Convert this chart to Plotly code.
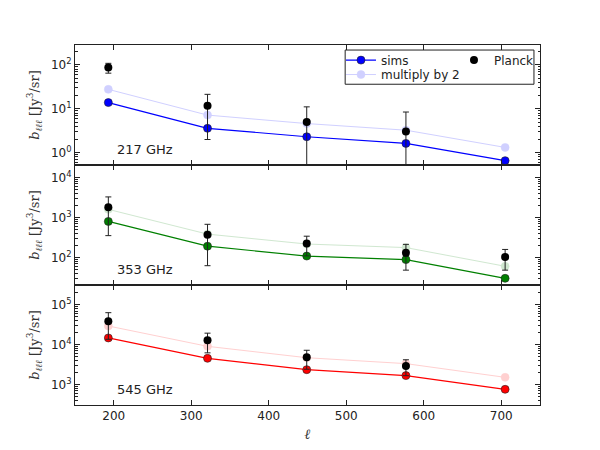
import plotly.graph_objects as go
from plotly.subplots import make_subplots

# ---------------- data ----------------
ell = [193, 321, 449, 577, 705]

sims_217 = [13.9, 3.6, 2.31, 1.63, 0.66]
mult_217 = [27.8, 7.2, 4.62, 3.26, 1.32]
planck_ell_217 = [193, 321, 449, 577]
planck_217 = [87, 11.7, 5.0, 3.06]
planck_217_err = [22, 9.7, 6.1, 5.4]

sims_353 = [794, 191, 108, 88, 30]
mult_353 = [1588, 382, 216, 176, 60]
planck_ell_353 = [193, 321, 449, 577, 705]
planck_353 = [1800, 367, 224, 130, 103]
planck_353_err = [1450, 305, 115, 82, 55]

sims_545 = [14700, 4520, 2340, 1660, 750]
mult_545 = [29400, 9040, 4680, 3320, 1500]
planck_ell_545 = [193, 321, 449, 577]
planck_545 = [38600, 12800, 4800, 2900]
planck_545_err = [25000, 6600, 2400, 1250]

panel_labels = ["217 GHz", "353 GHz", "545 GHz"]
colors = ["#0000ff", "#008000", "#ff0000"]

x_tickvals = [200, 300, 400, 500, 600, 700]
y_tickvals = [[1, 10, 100], [100, 1000, 10000], [1000, 10000, 100000]]
y_ticktext = [["10<sup>0</sup>", "10<sup>1</sup>", "10<sup>2</sup>"],
              ["10<sup>2</sup>", "10<sup>3</sup>", "10<sup>4</sup>"],
              ["10<sup>3</sup>", "10<sup>4</sup>", "10<sup>5</sup>"]]
y_ranges = [[-0.28, 2.455], [1.31, 4.31], [2.48, 5.5]]

sims = [sims_217, sims_353, sims_545]
mults = [mult_217, mult_353, mult_545]
planck_x = [planck_ell_217, planck_ell_353, planck_ell_545]
planck_y = [planck_217, planck_353, planck_545]
planck_e = [planck_217_err, planck_353_err, planck_545_err]

fig = make_subplots(rows=3, cols=1, shared_xaxes=True, vertical_spacing=0)

for i in range(3):
    row = i + 1
    first = (i == 0)
    # multiply by 2 (faint)
    fig.add_trace(go.Scatter(
        x=ell, y=mults[i], mode="lines+markers", name="multiply by 2",
        line=dict(color=colors[i], width=1),
        marker=dict(color=colors[i], size=8, line=dict(color=colors[i], width=0.5)),
        opacity=0.18, showlegend=first, legend="legend3",
    ), row=row, col=1)
    # sims
    fig.add_trace(go.Scatter(
        x=ell, y=sims[i], mode="lines+markers", name="sims",
        line=dict(color=colors[i], width=1.2),
        marker=dict(color=colors[i], size=8, line=dict(color="#222222", width=0.6)),
        showlegend=first, legend="legend",
    ), row=row, col=1)
    # Planck
    fig.add_trace(go.Scatter(
        x=planck_x[i], y=planck_y[i], mode="markers", name="Planck",
        marker=dict(color="black", size=8),
        error_y=dict(type="data", array=planck_e[i], color="#222222", thickness=1, width=3),
        showlegend=first, legend="legend2",
    ), row=row, col=1)

axis_common = dict(showline=True, linecolor="#222222", linewidth=1, mirror="ticks",
                   ticks="inside", ticklen=5, tickcolor="#222222", showgrid=False,
                   zeroline=False, automargin=False,
                   tickfont=dict(family="DejaVu Sans", size=12, color="#222222"))

for i in range(3):
    row = i + 1
    fig.update_yaxes(type="log", range=y_ranges[i], tickvals=y_tickvals[i],
                     ticktext=y_ticktext[i],
                     minor=dict(ticks="inside", ticklen=2.5, dtick="D1", tickcolor="#222222",
                                showgrid=False),
                     title=dict(text="<i>b</i><sub><i>ℓℓℓ</i></sub> [Jy<sup>3</sup>/sr]",
                                font=dict(family="DejaVu Serif", size=13, color="#333333"),
                                standoff=8),
                     row=row, col=1, **axis_common)
    fig.update_xaxes(range=[150, 750], tickvals=x_tickvals, row=row, col=1, **axis_common)
    yref = "y domain" if i == 0 else f"y{row} domain"
    xref = "x domain" if i == 0 else f"x{row} domain"
    fig.add_annotation(text=panel_labels[i], xref=xref, yref=yref, x=0.085, y=0.05,
                       xanchor="left", yanchor="bottom", showarrow=False,
                       font=dict(family="DejaVu Sans", size=13, color="#222222"))

fig.update_xaxes(title=dict(text="<i>ℓ</i>", font=dict(family="DejaVu Serif", size=14, color="#333333"),
                            standoff=6), row=3, col=1)

# legend box
fig.add_shape(type="rect", xref="paper", yref="paper", x0=0.581, x1=0.987, y0=0.891, y1=0.986,
              fillcolor="white", line=dict(color="#222222", width=1), layer="above")

leg_common = dict(bgcolor="rgba(0,0,0,0)", borderwidth=0, font=dict(size=12, color="#222222"),
                  itemwidth=30, xanchor="left", yanchor="middle")
fig.update_layout(
    width=600, height=450,
    margin=dict(l=75, r=60, t=45, b=45),
    plot_bgcolor="white", paper_bgcolor="white",
    font=dict(family="DejaVu Sans", size=12, color="#222222"),
    legend=dict(x=0.572, y=0.958, **leg_common),
    legend3=dict(x=0.572, y=0.918, **leg_common),
    legend2=dict(x=0.815, y=0.958, **leg_common),
)

fig.write_html("out.html", config={"displayModeBar": False},
               post_script="document.body.style.margin='0px';")
